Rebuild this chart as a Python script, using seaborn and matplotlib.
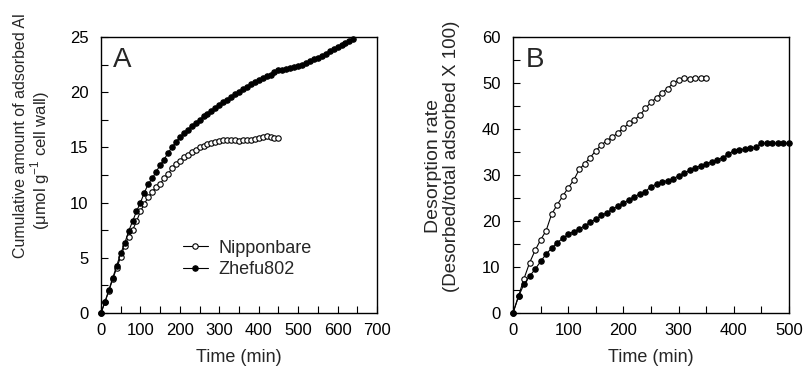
import numpy as np
import pandas as pd
import matplotlib
matplotlib.use("Agg")
import matplotlib.pyplot as plt
import seaborn as sns
from matplotlib.ticker import MultipleLocator

# Panel A: cumulative Al adsorbed (umol/g cell wall), sampled every 10 min
time_a_nip = [0, 10, 20, 30, 40, 50, 60, 70, 80, 90, 100, 110, 120, 130, 140, 150,
              160, 170, 180, 190, 200, 210, 220, 230, 240, 250, 260, 270, 280, 290,
              300, 310, 320, 330, 340, 350, 360, 370, 380, 390, 400, 410, 420, 430,
              440, 450]
ads_nip = [0, 1.0, 2.0, 3.1, 4.1, 5.1, 6.1, 6.9, 7.5, 8.3, 9.2, 9.9, 10.5, 11.0, 11.4,
           11.7, 12.2, 12.6, 13.1, 13.5, 13.8, 14.1, 14.3, 14.6, 14.8, 15.0, 15.1, 15.3,
           15.4, 15.5, 15.6, 15.65, 15.7, 15.7, 15.65, 15.6, 15.65, 15.7, 15.7, 15.8,
           15.85, 15.9, 16.0, 15.95, 15.85, 15.85]

time_a_zhe = [0, 10, 20, 30, 40, 50, 60, 70, 80, 90, 100, 110, 120, 130, 140, 150,
              160, 170, 180, 190, 200, 210, 220, 230, 240, 250, 260, 270, 280, 290,
              300, 310, 320, 330, 340, 350, 360, 370, 380, 390, 400, 410, 420, 430,
              440, 450, 460, 470, 480, 490, 500, 510, 520, 530, 540, 550, 560, 570,
              580, 590, 600, 610, 620, 630, 640]
ads_zhe = [0, 1.0, 2.1, 3.2, 4.3, 5.4, 6.3, 7.4, 8.3, 9.2, 10.0, 10.9, 11.7, 12.2, 12.8,
           13.4, 13.9, 14.5, 15.0, 15.5, 15.9, 16.3, 16.6, 16.9, 17.2, 17.5, 17.8, 18.0,
           18.3, 18.6, 18.8, 19.1, 19.3, 19.6, 19.8, 20.0, 20.3, 20.5, 20.7, 20.9, 21.1,
           21.3, 21.5, 21.6, 21.8, 22.0, 22.0, 22.1, 22.2, 22.3, 22.4, 22.5, 22.6, 22.8,
           23.0, 23.1, 23.3, 23.5, 23.7, 23.9, 24.1, 24.3, 24.5, 24.6, 24.8]

# Panel B: desorption rate (% of total adsorbed)
time_b_nip = [0, 10, 20, 30, 40, 50, 60, 70, 80, 90, 100, 110, 120, 130, 140, 150,
              160, 170, 180, 190, 200, 210, 220, 230, 240, 250, 260, 270, 280, 290,
              300, 310, 320, 330, 340, 350]
des_nip = [0, 3.7, 7.5, 10.9, 13.6, 15.9, 17.9, 21.5, 23.5, 25.4, 27.2, 28.9, 31.2,
           32.5, 33.8, 35.3, 36.5, 37.5, 38.2, 39.2, 40.2, 41.2, 42.0, 43.0, 44.5, 45.8,
           46.8, 47.9, 48.8, 49.9, 50.7, 51.0, 50.9, 51.0, 51.0, 51.0]

time_b_zhe = [0, 10, 20, 30, 40, 50, 60, 70, 80, 90, 100, 110, 120, 130, 140, 150,
              160, 170, 180, 190, 200, 210, 220, 230, 240, 250, 260, 270, 280, 290,
              300, 310, 320, 330, 340, 350, 360, 370, 380, 390, 400, 410, 420, 430,
              440, 450, 460, 470, 480, 490, 500]
des_zhe = [0, 3.6, 6.3, 8.0, 9.5, 11.2, 12.8, 14.1, 15.3, 16.2, 17.1, 17.7, 18.2, 19.0,
           19.7, 20.4, 21.2, 21.8, 22.6, 23.2, 23.9, 24.6, 25.3, 25.9, 26.4, 27.5, 28.0,
           28.5, 28.8, 29.2, 29.8, 30.4, 31.0, 31.6, 32.0, 32.4, 32.9, 33.3, 33.8, 34.5,
           35.3, 35.5, 35.6, 35.8, 36.1, 36.9, 36.9, 36.9, 36.9, 36.9, 36.9]

sns.set_style("ticks")
plt.rcParams['font.family'] = ['Liberation Sans', 'DejaVu Sans']
plt.rcParams['mathtext.fontset'] = 'custom'
plt.rcParams['mathtext.rm'] = 'Liberation Sans'

W, H = 807, 370
fig = plt.figure(figsize=(W / 100, H / 100), dpi=100)
ax_a = fig.add_axes([101 / W, 57 / H, 276 / W, 276 / H])
ax_b = fig.add_axes([513 / W, 57 / H, 276 / W, 276 / H])

open_style = dict(color='black', marker='o', markersize=3.9, markerfacecolor='white',
                  markeredgecolor='black', markeredgewidth=0.8, linewidth=0.8)
fill_style = dict(color='black', marker='o', markersize=3.9, markerfacecolor='black',
                  markeredgecolor='black', markeredgewidth=0.8, linewidth=0.8)

sns.lineplot(x=time_a_nip, y=ads_nip, ax=ax_a, label='Nipponbare', **open_style)
sns.lineplot(x=time_a_zhe, y=ads_zhe, ax=ax_a, label='Zhefu802', **fill_style)
sns.lineplot(x=time_b_nip, y=des_nip, ax=ax_b, **open_style)
sns.lineplot(x=time_b_zhe, y=des_zhe, ax=ax_b, **fill_style)

ax_a.set_xlim(0, 700)
ax_a.set_ylim(0, 25)
ax_a.xaxis.set_major_locator(MultipleLocator(100))
ax_a.xaxis.set_minor_locator(MultipleLocator(50))
ax_a.yaxis.set_major_locator(MultipleLocator(5))
ax_a.yaxis.set_minor_locator(MultipleLocator(2.5))

ax_b.set_xlim(0, 500)
ax_b.set_ylim(0, 60)
ax_b.xaxis.set_major_locator(MultipleLocator(100))
ax_b.xaxis.set_minor_locator(MultipleLocator(50))
ax_b.yaxis.set_major_locator(MultipleLocator(10))
ax_b.yaxis.set_minor_locator(MultipleLocator(5))

for ax in (ax_a, ax_b):
    for sp in ax.spines.values():
        sp.set_visible(True)
        sp.set_linewidth(1.0)
        sp.set_color('black')
    ax.tick_params(which='both', direction='in', length=5, width=0.8,
                   labelsize=12, colors='black')
    ax.tick_params(axis='y', pad=9)
    ax.tick_params(axis='x', pad=7)
    ax.set_xlabel('Time (min)', fontsize=13, labelpad=8)
    for line in ax.lines:
        line.set_clip_on(False)

# two-line y labels placed line by line
fig.text(21 / W, 1 - 136 / H, 'Cumulative amount of adsorbed Al', rotation=90,
         ha='center', va='center', fontsize=11.5)
fig.text(40 / W, 1 - 160 / H, '($\\mathregular{\\mu}$mol g$^{-1}$ cell wall)', rotation=90,
         ha='center', va='center', fontsize=12)
fig.text(433 / W, 1 - 166 / H, 'Desorption rate', rotation=90,
         ha='center', va='center', fontsize=14)
fig.text(452 / W, 1 - 156 / H, '(Desorbed/total adsorbed X 100)', rotation=90,
         ha='center', va='center', fontsize=13.5)

ax_a.text(0.045, 0.965, 'A', transform=ax_a.transAxes, fontsize=20, va='top', ha='left')
ax_b.text(0.045, 0.965, 'B', transform=ax_b.transAxes, fontsize=20, va='top', ha='left')

ax_a.legend(loc='lower left', bbox_to_anchor=(0.272, 0.10), frameon=False, fontsize=13,
            handlelength=1.35, handletextpad=0.6, labelspacing=0.25, borderaxespad=0)

fig.savefig('out.png', dpi=100)
